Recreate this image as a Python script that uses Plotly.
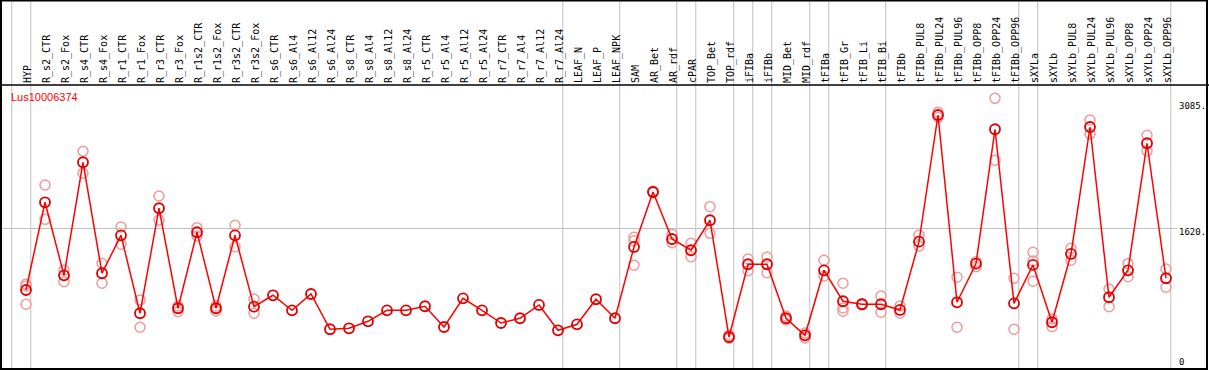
import plotly.graph_objects as go

categories = [
    "HYP",
    "R_s2_CTR", "R_s2_Fox", "R_s4_CTR", "R_s4_Fox", "R_r1_CTR", "R_r1_Fox",
    "R_r3_CTR", "R_r3_Fox", "R_r1s2_CTR", "R_r1s2_Fox", "R_r3s2_CTR", "R_r3s2_Fox",
    "R_s6_CTR", "R_s6_Al4", "R_s6_Al12", "R_s6_Al24",
    "R_s8_CTR", "R_s8_Al4", "R_s8_Al12", "R_s8_Al24",
    "R_r5_CTR", "R_r5_Al4", "R_r5_Al12", "R_r5_Al24",
    "R_r7_CTR", "R_r7_Al4", "R_r7_Al12", "R_r7_Al24",
    "LEAF_N", "LEAF_P", "LEAF_NPK",
    "SAM", "AR_Bet", "AR_rdf",
    "cPAR",
    "TOP_Bet", "TOP_rdf",
    "iFIBa",
    "iFIBb",
    "MID_Bet", "MID_rdf",
    "tFIBa",
    "tFIB_Gr", "tFIB_Li", "tFIB_Bi",
    "tFIBb", "tFIBb_PUL8", "tFIBb_PUL24", "tFIBb_PUL96", "tFIBb_OPP8", "tFIBb_OPP24", "tFIBb_OPP96",
    "sXYLa",
    "sXYLb", "sXYLb_PUL8", "sXYLb_PUL24", "sXYLb_PUL96", "sXYLb_OPP8", "sXYLb_OPP24", "sXYLb_OPP96",
]

# group sizes (separators drawn between groups)
group_sizes = [1, 28, 3, 3, 1, 2, 1, 1, 2, 1, 3, 7, 1, 7]

mean_values = [
    908,
    1923, 1078, 2386, 1102, 1541, 639, 1854, 697, 1576, 697, 1541, 715,
    847, 673, 862, 454,
    465, 546, 673, 673,
    720, 480, 812, 673,
    526, 581, 735, 442,
    511, 801, 581,
    1406, 2042, 1498,
    1368,
    1715, 364,
    1206,
    1206,
    581, 384,
    1136,
    778, 743, 743,
    677, 1467, 2933, 766, 1213, 2768, 754,
    1198,
    535, 1325, 2794, 824, 1136, 2606, 1044,
]

N = None
rep1 = [
    978,
    2123, 1140, 2513, 1217, 1637, 793, 1996, 723, 1629, 723, 1657, 804,
    N, N, N, N, N, N, N, N, N, N, N, N, N, N, N, N, N, N, N,
    1518, 2050, 1553,
    1449,
    1872, 387,
    1267,
    1290,
    607, 411,
    1252,
    986, 750, 839,
    723, 1545, 2964, 1055, 1236, 3126, 1044,
    1345,
    573, 1391, 2875, 920, 1213, 2698, 1151,
]
rep2 = [
    955,
    1726, 1004, 2259, 986, 1437, 477, 1718, 657, 1533, 665, 1409, 639,
    N, N, N, N, N, N, N, N, N, N, N, N, N, N, N, N, N, N, N,
    1479, 2035, 1456,
    1294,
    1564, 349,
    1132,
    1108,
    561, 353,
    1070,
    700, 736, 650,
    639, 1417, 2907, 477, 1178, 2409, 454,
    1244,
    484, 1252, 2713, 715, 1062, 2517, 940,
]
rep3 = [N] * len(categories)
rep3[0] = 743
rep3[32] = 1194
rep3[43] = 662
rep3[53] = 1009

y_ticks = [0, 1620, 3085]
y_tick_text = ["0", "1620.", "3085."]
gene_id = "Lus10006374"

W, H = 1209, 370
TOP, BOT = 85, 1
plot_h = H - TOP - BOT
PX0, STEP = 26, 19  # pixel of first category, pixel step
x_lo = -PX0 / STEP
x_hi = (W - PX0) / STEP

fig = go.Figure()

rep_color = "#f09a9a"
for rep in (rep1, rep2, rep3):
    fig.add_trace(go.Scatter(
        x=categories, y=rep, mode="markers",
        marker=dict(symbol="circle-open", size=10, color=rep_color, line=dict(width=1.5, color=rep_color)),
        showlegend=False, hoverinfo="skip",
    ))

fig.add_trace(go.Scatter(
    x=categories, y=mean_values, mode="lines+markers",
    line=dict(color="#ff0000", width=1.5),
    marker=dict(symbol="circle", size=10, color="rgba(255,255,255,0)", line=dict(width=1.8, color="#e00000")),
    showlegend=False,
))

shapes = []
b = -1
bounds = [b]
for g in group_sizes:
    b += g
    bounds.append(b)
top_paper = 1 + TOP / plot_h
for bnd in bounds:
    shapes.append(dict(type="line", xref="x", yref="paper", x0=bnd + 0.25, x1=bnd + 0.25,
                       y0=-BOT / plot_h, y1=top_paper, line=dict(color="#c0c0c0", width=1), layer="below"))
shapes.append(dict(type="line", xref="paper", yref="y", x0=0, x1=1177 / W, y0=y_ticks[1], y1=y_ticks[1],
                   line=dict(color="#c0c0c0", width=1), layer="below"))
shapes.append(dict(type="line", xref="paper", yref="paper", x0=0, x1=1, y0=1, y1=1,
                   line=dict(color="black", width=1.5)))
shapes.append(dict(type="rect", xref="paper", yref="paper", x0=1 / W, x1=(W - 2) / W,
                   y0=0, y1=top_paper - 0.6 / plot_h, line=dict(color="black", width=2)))

annotations = []
for v, t in zip(y_ticks, y_tick_text):
    annotations.append(dict(xref="paper", yref="y", x=1177 / W, y=v, text=t, showarrow=False,
                            xanchor="left", yanchor="middle", yshift=(6 if v == 0 else -4),
                            font=dict(family="DejaVu Sans Mono", size=9, color="black")))
annotations.append(dict(xref="paper", yref="paper", x=9 / W, y=1 - 12 / plot_h, text=gene_id,
                        showarrow=False, xanchor="left", yanchor="middle",
                        font=dict(family="Liberation Sans, Arial", size=11, color="red")))

fig.update_layout(
    width=W, height=H,
    margin=dict(l=0, r=0, t=TOP, b=BOT, pad=0),
    paper_bgcolor="white", plot_bgcolor="white",
    xaxis=dict(type="category", range=[x_lo, x_hi], side="top", tickangle=-90,
               showgrid=False, zeroline=False, showline=False, ticks="",
               ticklabelshift=2, ticklabelstandoff=1,
               tickfont=dict(family="DejaVu Sans Mono", size=10, color="black")),
    yaxis=dict(range=[-6, 3280], showgrid=False, zeroline=False, showline=False,
               showticklabels=False, ticks=""),
    shapes=shapes, annotations=annotations,
)

fig.write_html("out.html", config={"displayModeBar": False},
               post_script="document.body.style.margin='0';document.body.style.padding='0';")
